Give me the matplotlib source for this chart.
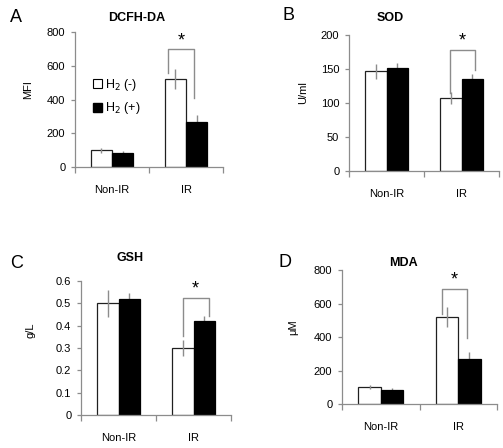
import numpy as np
import matplotlib
matplotlib.use('Agg')
import matplotlib.pyplot as plt
from matplotlib.patches import Patch

plt.rcParams['font.family'] = ['Liberation Sans', 'DejaVu Sans']

groups = ['Non-IR', 'IR']
legend_labels = ['H$_2$ (-)', 'H$_2$ (+)']

titles = ['DCFH-DA', 'SOD', 'GSH', 'MDA']
letters = ['A', 'B', 'C', 'D']
ylabels = ['MFI', 'U/ml', 'g/L', '\u03bcM']
ymax = [800, 200, 0.6, 800]
ystep = [200, 50, 0.1, 200]

# H2(-) = white bars, H2(+) = black bars
h2_neg = [[100, 520], [147, 107], [0.50, 0.30], [100, 520]]
h2_neg_err = [[15, 60], [11, 9], [0.06, 0.035], [12, 60]]
h2_pos = [[82, 268], [151, 135], [0.52, 0.42], [82, 268]]
h2_pos_err = [[10, 40], [8, 8], [0.025, 0.025], [12, 40]]

# significance bracket: x ends, top, left foot, right foot, star
br_x = [(0.76, 1.11), (0.84, 1.18), (0.86, 1.2), (0.79, 1.11)]
br_top = [699, 178, 0.524, 687]
br_left = [557, 115, 0.354, 537]
br_right = [409, 149, 0.443, 394]

W, H = 503, 448
fig = plt.figure(figsize=(W / 100, H / 100), dpi=100)

# axes boxes in pixels: left, right, top, bottom
boxes = [(75, 223, 32, 167), (349, 499, 35, 171), (81, 231, 281, 415), (342, 497, 270, 404)]
title_pos = [(137, 18), (390, 18), (130, 258), (403, 263)]
letter_pos = [(10, 17), (282, 15), (10, 263), (278, 262)]
ylab_pos = [(28, 90), (303, 93), (30, 330), (293, 327)]

gray = '#8c8c8c'
w = 0.29
x = np.arange(len(groups))

for i in range(4):
    l, r, t, b = boxes[i]
    ax = fig.add_axes([l / W, 1 - b / H, (r - l) / W, (b - t) / H])
    ax.bar(x - w / 2, h2_neg[i], w, color='white', edgecolor='#202020', linewidth=0.9, zorder=2)
    ax.bar(x + w / 2, h2_pos[i], w, color='black', edgecolor='black', linewidth=0.9, zorder=2)
    ax.errorbar(x - w / 2, h2_neg[i], yerr=h2_neg_err[i], fmt='none', ecolor=gray,
                elinewidth=1, capsize=0, zorder=3)
    ax.errorbar(x + w / 2, h2_pos[i], yerr=h2_pos_err[i], fmt='none', ecolor=gray,
                elinewidth=1, capsize=0, zorder=1)

    # bracket + star
    x0, x1 = br_x[i]
    ax.plot([x0, x0, x1, x1], [br_left[i], br_top[i], br_top[i], br_right[i]],
            color=gray, lw=1, zorder=4, clip_on=False)
    ax.text((x0 + x1) / 2, br_top[i], '*', ha='center', va='bottom', fontsize=13,
            clip_on=False)

    ax.set_xlim(-0.5, 1.5)
    ax.set_ylim(0, ymax[i])
    ax.set_yticks(np.arange(0, ymax[i] + ystep[i] / 2, ystep[i]))
    if ystep[i] < 1:
        ax.set_yticklabels([('%.1f' % v).rstrip('0').rstrip('.') if v == 0 else '%.1f' % v
                            for v in ax.get_yticks()])
    ax.set_xticks([-0.5, 0.5, 1.5])
    ax.set_xticklabels([])
    for j, g in enumerate(groups):
        ax.text(j, -0.17, g, transform=ax.get_xaxis_transform(), ha='center', va='center',
                fontsize=8)
    for s in ['top', 'right']:
        ax.spines[s].set_visible(False)
    for s in ['left', 'bottom']:
        ax.spines[s].set_color(gray)
        ax.spines[s].set_linewidth(0.9)
    ax.tick_params(axis='both', colors=gray, labelcolor='black', labelsize=8, width=0.9)
    ax.tick_params(axis='y', length=3, pad=4)
    ax.tick_params(axis='x', length=4)

    fig.text(title_pos[i][0] / W, 1 - title_pos[i][1] / H, titles[i], ha='center',
             va='center', fontsize=9, fontweight='bold')
    fig.text(letter_pos[i][0] / W, 1 - letter_pos[i][1] / H, letters[i], ha='left',
             va='center', fontsize=13)
    fig.text(ylab_pos[i][0] / W, 1 - ylab_pos[i][1] / H, ylabels[i], ha='center',
             va='center', rotation=90, fontsize=8)

    if i == 0:
        handles = [Patch(facecolor='white', edgecolor='black', linewidth=0.8),
                   Patch(facecolor='black', edgecolor='black')]
        ax.legend(handles, legend_labels, frameon=False, fontsize=9,
                  handlelength=0.75, handleheight=0.75, handletextpad=0.2,
                  labelspacing=0.6, borderaxespad=0, loc='upper left',
                  bbox_to_anchor=(88 / W, 1 - 72 / H), bbox_transform=fig.transFigure)

fig.savefig('out.png', dpi=100)
